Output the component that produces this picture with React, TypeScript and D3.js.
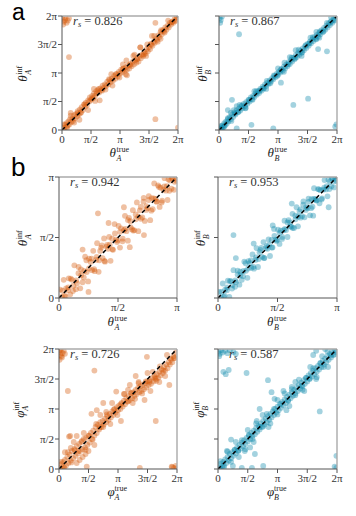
import React from "react";
import { scaleLinear } from "d3";

// all values in units of pi
const ticksFull = [0, 0.5, 1, 1.5, 2];
const labelsFull = ["0", "π/2", "π", "3π/2", "2π"];
const ticksHalf = [0, 0.5, 1];
const labelsHalf = ["0", "π/2", "π"];

type Pt = [number, number];

const thetaA: Pt[] = [
  [0.01,1.95],[0.03,1.9],[0.05,1.93],[0.08,1.88],[0.1,1.92],[0.02,1.85],[0.12,1.96],[0.06,1.97],
  [0.12,1.28],[1.61,1.88],[1.61,0.19],[2.0,0.04],[1.12,0.96],
  [0.02,0.04],[0.04,0.0],[0.05,0.09],[0.07,0.05],[0.08,0.12],[0.1,0.08],[0.11,0.15],[0.13,0.1],[0.14,0.19],[0.16,0.14],
  [0.18,0.2],[0.19,0.16],[0.21,0.26],[0.22,0.2],[0.24,0.28],[0.26,0.24],[0.27,0.33],[0.29,0.27],[0.31,0.36],[0.32,0.3],
  [0.34,0.4],[0.36,0.35],[0.38,0.45],[0.4,0.41],[0.41,0.48],[0.43,0.44],[0.45,0.52],[0.47,0.5],[0.48,0.57],[0.5,0.53],
  [0.52,0.6],[0.54,0.56],[0.55,0.64],[0.57,0.6],[0.59,0.68],[0.6,0.64],[0.62,0.7],[0.64,0.66],[0.66,0.73],[0.68,0.7],
  [0.7,0.78],[0.72,0.74],[0.74,0.8],[0.76,0.77],[0.78,0.85],[0.8,0.8],[0.82,0.88],[0.84,0.84],[0.86,0.9],[0.88,0.87],
  [0.9,0.95],[0.92,0.9],[0.94,0.98],[0.96,0.94],[0.98,1.02],[1.0,0.99],[1.02,1.06],[1.04,1.01],[1.06,1.08],[1.08,1.04],
  [1.1,1.1],[1.12,1.06],[1.14,1.13],[1.16,1.08],[1.18,1.16],[1.2,1.12],[1.22,1.2],[1.24,1.15],[1.26,1.22],[1.28,1.18],
  [1.3,1.25],[1.32,1.2],[1.34,1.3],[1.36,1.26],[1.38,1.32],[1.4,1.3],[1.42,1.37],[1.44,1.34],[1.46,1.42],[1.48,1.38],
  [1.5,1.45],[1.52,1.42],[1.54,1.5],[1.56,1.48],[1.58,1.55],[1.6,1.53],[1.62,1.6],[1.64,1.58],[1.66,1.66],[1.68,1.63],
  [1.7,1.72],[1.72,1.68],[1.74,1.75],[1.76,1.73],[1.78,1.8],[1.8,1.76],[1.82,1.83],[1.84,1.8],[1.86,1.88],[1.88,1.85],
  [1.9,1.9],[1.92,1.88],[1.94,1.95],[1.96,1.93],[1.98,1.98],
  [0.3,0.18],[0.55,0.72],[0.85,0.98],[1.05,1.15],[1.25,1.32],[1.45,1.3],[1.7,1.6],[1.35,1.45],[0.15,0.3],[0.65,0.52],
  [1.55,1.65],[1.1,0.98],
  [0.03,0.1],[0.09,0.04],[0.15,0.25],[0.21,0.13],[0.27,0.3],[0.33,0.31],[0.39,0.45],[0.45,0.35],[0.51,0.55],[0.57,0.51],
  [0.63,0.72],[0.69,0.69],[0.75,0.71],[0.81,0.89],[0.87,0.78],[0.93,0.98],[0.99,0.92],[1.05,1.07],[1.11,1.22],[1.17,1.14],
  [1.23,1.3],[1.29,1.24],[1.35,1.45],[1.41,1.33],[1.47,1.5],[1.53,1.51],[1.59,1.65],[1.65,1.55],[1.71,1.75],[1.77,1.71],
  [1.83,1.92],[1.89,1.89],[1.95,1.91],
];

const thetaB: Pt[] = [
  [0.01,1.97],[0.03,1.93],[0.02,1.88],[0.05,1.99],[0.34,1.68],[0.55,0.09],[0.92,0.03],[1.26,0.44],[1.51,0.55],[1.97,0.06],
  [1.99,0.1],[1.05,0.83],[0.22,0.53],[0.15,0.35],[0.3,0.03],[0.05,0.03],[1.68,1.42],[1.83,1.38],
  [0.01,0.02],[0.03,0.05],[0.04,0.01],[0.06,0.08],[0.07,0.04],[0.09,0.12],[0.1,0.08],[0.12,0.15],[0.13,0.11],[0.15,0.19],
  [0.16,0.15],[0.18,0.22],[0.2,0.19],[0.22,0.27],[0.24,0.23],[0.26,0.31],[0.28,0.27],[0.3,0.35],[0.32,0.31],[0.34,0.38],
  [0.36,0.34],[0.38,0.42],[0.4,0.38],[0.42,0.46],[0.44,0.42],[0.46,0.49],[0.48,0.46],[0.5,0.53],[0.52,0.5],[0.54,0.57],
  [0.56,0.54],[0.58,0.6],[0.6,0.58],[0.62,0.64],[0.64,0.62],[0.66,0.68],[0.68,0.65],[0.7,0.72],[0.72,0.69],[0.74,0.76],
  [0.76,0.73],[0.78,0.8],[0.8,0.77],[0.82,0.83],[0.84,0.81],[0.86,0.87],[0.88,0.85],[0.9,0.91],[0.92,0.89],[0.94,0.95],
  [0.96,0.93],[0.98,0.99],[1.0,0.97],[1.02,1.03],[1.04,1.01],[1.06,1.07],[1.08,1.04],[1.1,1.11],[1.12,1.08],[1.14,1.15],
  [1.16,1.12],[1.18,1.19],[1.2,1.16],[1.22,1.23],[1.24,1.2],[1.26,1.27],[1.28,1.24],[1.3,1.31],[1.32,1.28],[1.34,1.35],
  [1.36,1.32],[1.38,1.39],[1.4,1.36],[1.42,1.43],[1.44,1.4],[1.46,1.47],[1.48,1.44],[1.5,1.51],[1.52,1.48],[1.54,1.55],
  [1.56,1.52],[1.58,1.59],[1.6,1.56],[1.62,1.63],[1.64,1.6],[1.66,1.67],[1.68,1.64],[1.7,1.71],[1.72,1.68],[1.74,1.75],
  [1.76,1.72],[1.78,1.79],[1.8,1.76],[1.82,1.83],[1.84,1.8],[1.86,1.87],[1.88,1.84],[1.9,1.91],[1.92,1.88],[1.94,1.95],
  [1.96,1.92],[1.98,1.99],
  [0.2,0.3],[0.25,0.35],[0.3,0.42],[0.35,0.44],[0.6,0.68],[0.8,0.72],[1.0,1.08],[1.2,1.28],[1.4,1.3],[1.55,1.62],
  [1.7,1.62],[1.9,1.98],[0.45,0.38],[1.1,1.02],[1.3,1.4],[1.65,1.72],
  [0.03,0.07],[0.09,0.06],[0.15,0.21],[0.21,0.16],[0.27,0.29],[0.33,0.32],[0.39,0.43],[0.45,0.39],[0.51,0.53],[0.57,0.53],
  [0.63,0.68],[0.69,0.69],[0.75,0.73],[0.81,0.86],[0.87,0.82],[0.93,0.96],[0.99,0.95],[1.05,1.06],[1.11,1.18],[1.17,1.15],
  [1.23,1.27],[1.29,1.26],[1.35,1.41],[1.41,1.36],[1.47,1.49],[1.53,1.52],[1.59,1.63],[1.65,1.59],[1.71,1.73],[1.77,1.73],
  [1.83,1.88],[1.89,1.89],[1.95,1.93],
];

const thetaAHalf: Pt[] = [
  [0.01,0.07],[0.025,0.01],[0.04,0.15],[0.048,0.02],[0.06,0.08],[0.075,0.065],[0.083,0.163],[0.095,0.03],[0.11,0.15],
  [0.118,0.058],[0.13,0.27],[0.145,0.145],[0.152,0.122],[0.166,0.256],[0.18,0.08],[0.187,0.237],[0.2,0.13],[0.213,0.223],
  [0.221,0.341],[0.235,0.215],[0.247,0.137],[0.255,0.325],[0.268,0.298],[0.28,0.23],[0.29,0.39],[0.302,0.222],
  [0.315,0.315],[0.323,0.453],[0.336,0.216],[0.349,0.389],[0.357,0.417],[0.37,0.33],[0.382,0.492],[0.39,0.3],
  [0.404,0.424],[0.416,0.406],[0.425,0.505],[0.437,0.307],[0.45,0.49],[0.458,0.398],[0.471,0.611],[0.483,0.483],
  [0.492,0.462],[0.505,0.595],[0.517,0.417],[0.526,0.576],[0.538,0.468],[0.55,0.56],[0.559,0.679],[0.572,0.552],
  [0.584,0.474],[0.593,0.663],[0.605,0.635],[0.618,0.568],[0.626,0.726],[0.639,0.559],[0.651,0.651],[0.66,0.79],
  [0.672,0.552],[0.685,0.725],[0.693,0.753],[0.706,0.666],[0.718,0.828],[0.727,0.637],[0.74,0.76],[0.752,0.742],
  [0.761,0.841],[0.773,0.643],[0.786,0.826],[0.794,0.734],[0.807,0.947],[0.819,0.819],[0.828,0.798],[0.84,0.93],
  [0.853,0.753],[0.861,0.911],[0.874,0.804],[0.886,0.896],[0.895,0.99],[0.907,0.887],[0.92,0.81],[0.928,0.98],
  [0.941,0.971],[0.953,0.903],[0.962,0.99],[0.974,0.894],[0.986,0.986],[0.995,0.97],
  [0.03,0.06],[0.055,0.01],[0.078,0.088],[0.1,0.16],[0.122,0.102],[0.143,0.073],[0.165,0.205],[0.188,0.188],[0.21,0.17],
  [0.232,0.312],[0.254,0.244],[0.276,0.326],[0.298,0.238],[0.32,0.34],[0.342,0.312],[0.364,0.434],[0.386,0.306],
  [0.408,0.438],[0.43,0.44],[0.452,0.402],[0.474,0.534],[0.496,0.476],[0.518,0.548],[0.54,0.49],[0.562,0.572],
  [0.584,0.644],[0.606,0.586],[0.628,0.558],[0.65,0.69],[0.672,0.672],[0.694,0.654],[0.716,0.796],[0.738,0.728],
  [0.76,0.81],[0.782,0.722],[0.804,0.824],[0.826,0.796],[0.848,0.918],[0.87,0.79],[0.892,0.922],[0.914,0.924],
  [0.936,0.886],[0.958,0.99],[0.98,0.96],
  [0.33,0.7],[0.25,0.05],[0.2,0.4],[0.6,0.42],[0.42,0.62],[0.72,0.52],[0.55,0.75],
];

const thetaBHalf: Pt[] = [
  [0.01,0.05],[0.025,0.0],[0.04,0.12],[0.048,0.01],[0.06,0.07],[0.075,0.065],[0.083,0.143],[0.095,0.01],[0.11,0.14],
  [0.118,0.078],[0.13,0.23],[0.145,0.145],[0.152,0.132],[0.166,0.226],[0.18,0.11],[0.187,0.217],[0.2,0.15],[0.213,0.223],
  [0.221,0.301],[0.235,0.225],[0.247,0.167],[0.255,0.305],[0.268,0.288],[0.28,0.25],[0.29,0.36],[0.302,0.242],
  [0.315,0.315],[0.323,0.413],[0.336,0.256],[0.349,0.379],[0.357,0.397],[0.37,0.34],[0.382,0.462],[0.39,0.33],
  [0.404,0.414],[0.416,0.406],[0.425,0.485],[0.437,0.347],[0.45,0.48],[0.458,0.418],[0.471,0.571],[0.483,0.483],
  [0.492,0.472],[0.505,0.565],[0.517,0.447],[0.526,0.556],[0.538,0.488],[0.55,0.56],[0.559,0.639],[0.572,0.562],
  [0.584,0.504],[0.593,0.643],[0.605,0.625],[0.618,0.588],[0.626,0.696],[0.639,0.579],[0.651,0.651],[0.66,0.75],
  [0.672,0.592],[0.685,0.715],[0.693,0.733],[0.706,0.676],[0.718,0.798],[0.727,0.667],[0.74,0.75],[0.752,0.742],
  [0.761,0.821],[0.773,0.683],[0.786,0.816],[0.794,0.754],[0.807,0.907],[0.819,0.819],[0.828,0.808],[0.84,0.9],
  [0.853,0.783],[0.861,0.891],[0.874,0.824],[0.886,0.896],[0.895,0.975],[0.907,0.897],[0.92,0.84],[0.928,0.978],
  [0.941,0.961],[0.953,0.923],[0.962,0.99],[0.974,0.914],[0.986,0.986],[0.995,0.97],
  [0.03,0.05],[0.055,0.02],[0.078,0.088],[0.1,0.14],[0.122,0.107],[0.143,0.093],[0.165,0.195],[0.188,0.188],[0.21,0.18],
  [0.232,0.287],[0.254,0.244],[0.276,0.311],[0.298,0.258],[0.32,0.335],[0.342,0.322],[0.364,0.414],[0.386,0.331],
  [0.408,0.428],[0.43,0.44],[0.452,0.417],[0.474,0.514],[0.496,0.481],[0.518,0.538],[0.54,0.505],[0.562,0.572],
  [0.584,0.624],[0.606,0.591],[0.628,0.578],[0.65,0.68],[0.672,0.672],[0.694,0.664],[0.716,0.771],[0.738,0.728],
  [0.76,0.795],[0.782,0.742],[0.804,0.819],[0.826,0.806],[0.848,0.898],[0.87,0.815],[0.892,0.912],[0.914,0.924],
  [0.936,0.901],[0.958,0.99],[0.98,0.965],
  [0.13,0.52],[0.15,0.33],[0.93,0.75],[0.3,0.45],[0.62,0.78],[0.8,0.68],[0.46,0.6],
];

const phiA: Pt[] = [
  [0.0,1.95],[0.02,1.9],[0.03,1.98],[0.05,1.86],[0.06,1.93],[0.01,1.82],[0.08,1.97],[0.04,1.88],[0.1,1.92],[0.02,1.99],
  [1.95,0.02],[1.98,0.05],[1.92,0.03],[2.0,0.01],
  [0.6,1.64],[0.15,1.3],[0.17,0.54],[0.19,0.55],[0.64,0.98],[0.97,1.29],[1.64,0.8],[1.37,0.02],[1.91,0.04],[0.47,0.04],
  [1.49,1.87],[1.63,1.52],[1.87,1.4],[1.17,1.32],[0.55,0.92],[0.75,1.1],[1.3,1.55],[1.05,0.8],[0.3,0.1],[0.4,0.2],[1.45,1.15],
  [0.02,0.02],[0.04,0.08],[0.05,0.0],[0.07,0.12],[0.08,0.04],[0.1,0.15],[0.12,0.06],[0.14,0.2],[0.16,0.1],[0.18,0.24],
  [0.2,0.14],[0.22,0.3],[0.24,0.18],[0.26,0.33],[0.28,0.22],[0.3,0.38],[0.32,0.26],[0.34,0.42],[0.36,0.3],[0.38,0.45],
  [0.4,0.33],[0.42,0.5],[0.44,0.36],[0.46,0.52],[0.48,0.4],[0.5,0.55],[0.52,0.44],[0.54,0.6],[0.56,0.5],[0.58,0.64],
  [0.6,0.56],[0.62,0.7],[0.64,0.6],[0.66,0.74],[0.68,0.66],[0.7,0.78],[0.72,0.7],[0.74,0.8],[0.76,0.74],[0.78,0.84],
  [0.8,0.78],[0.82,0.88],[0.84,0.82],[0.86,0.92],[0.88,0.86],[0.9,0.96],[0.92,0.9],[0.94,1.0],[0.96,0.94],[0.98,1.03],
  [1.0,0.98],[1.02,1.06],[1.04,1.0],[1.06,1.1],[1.08,1.04],[1.1,1.14],[1.12,1.08],[1.14,1.18],[1.16,1.12],[1.18,1.22],
  [1.2,1.15],[1.22,1.26],[1.24,1.18],[1.26,1.28],[1.28,1.22],[1.3,1.32],[1.32,1.25],[1.34,1.35],[1.36,1.28],[1.38,1.38],
  [1.4,1.3],[1.42,1.4],[1.44,1.33],[1.46,1.43],[1.48,1.36],[1.5,1.46],[1.52,1.4],[1.54,1.48],[1.56,1.42],[1.58,1.52],
  [1.6,1.46],[1.62,1.55],[1.64,1.5],[1.66,1.58],[1.68,1.52],[1.7,1.62],[1.72,1.56],[1.74,1.66],[1.76,1.6],[1.78,1.7],
  [1.8,1.64],[1.82,1.74],[1.84,1.68],[1.86,1.78],[1.88,1.74],[1.9,1.82],[1.92,1.78],[1.94,1.88],[1.96,1.85],[1.98,1.94],
  [0.35,0.15],[0.45,0.25],[0.5,0.3],[0.6,0.4],[0.25,0.45],[0.3,0.55],[0.8,0.95],[0.9,1.1],[1.1,1.25],[1.25,1.1],
  [1.5,1.6],[1.7,1.45],[1.8,1.55],[0.42,0.6],[0.7,0.9],[1.2,1.4],[1.55,1.3],[1.35,1.45],[0.2,0.35],[0.1,0.28],
  [0.03,0.12],[0.09,0.02],[0.15,0.28],[0.21,0.11],[0.27,0.31],[0.33,0.3],[0.39,0.47],[0.45,0.32],[0.51,0.56],[0.57,0.49],
  [0.63,0.75],[0.69,0.69],[0.75,0.7],[0.81,0.91],[0.87,0.75],[0.93,0.99],[0.99,0.9],[1.05,1.08],[1.11,1.25],[1.17,1.13],
  [1.23,1.27],[1.29,1.17],[1.35,1.43],[1.41,1.26],[1.47,1.46],[1.53,1.45],[1.59,1.62],[1.65,1.47],[1.71,1.71],[1.77,1.64],
  [1.83,1.9],[1.89,1.84],[1.95,1.85],
];

const phiB: Pt[] = [
  [0.01,1.96],[0.03,1.92],[0.05,1.98],[0.08,1.94],[0.12,1.97],[0.16,1.93],[0.2,1.98],[0.26,1.95],[0.3,1.92],[0.02,1.88],
  [0.09,1.62],[0.13,1.58],[0.18,1.65],
  [1.99,0.22],[1.96,0.04],[1.99,0.02],[0.57,0.02],[0.76,0.05],[0.25,0.05],[0.62,0.25],[0.54,0.36],[0.22,0.49],[0.4,0.02],
  [0.48,1.6],[0.84,1.48],[0.9,1.28],[0.95,1.17],[1.24,1.37],[1.41,1.39],[1.71,0.96],[0.7,1.0],[1.1,1.3],[1.6,1.9],
  [1.65,1.97],[1.8,2.0],
  [0.02,0.03],[0.04,0.0],[0.05,0.09],[0.07,0.04],[0.09,0.12],[0.1,0.06],[0.12,0.16],[0.14,0.1],[0.16,0.2],[0.18,0.14],
  [0.2,0.25],[0.22,0.18],[0.24,0.28],[0.26,0.22],[0.28,0.32],[0.3,0.26],[0.32,0.36],[0.34,0.3],[0.36,0.4],[0.38,0.34],
  [0.4,0.44],[0.42,0.38],[0.44,0.48],[0.46,0.42],[0.48,0.52],[0.5,0.46],[0.52,0.56],[0.54,0.5],[0.56,0.6],[0.58,0.55],
  [0.6,0.64],[0.62,0.58],[0.64,0.68],[0.66,0.62],[0.68,0.72],[0.7,0.66],[0.72,0.76],[0.74,0.7],[0.76,0.8],[0.78,0.74],
  [0.8,0.84],[0.82,0.78],[0.84,0.88],[0.86,0.82],[0.88,0.92],[0.9,0.86],[0.92,0.96],[0.94,0.9],[0.96,1.0],[0.98,0.94],
  [1.0,1.04],[1.02,0.98],[1.04,1.08],[1.06,1.02],[1.08,1.12],[1.1,1.06],[1.12,1.16],[1.14,1.1],[1.16,1.2],[1.18,1.14],
  [1.2,1.24],[1.22,1.18],[1.24,1.28],[1.26,1.22],[1.28,1.32],[1.3,1.26],[1.32,1.36],[1.34,1.3],[1.36,1.4],[1.38,1.34],
  [1.4,1.44],[1.42,1.38],[1.44,1.48],[1.46,1.42],[1.48,1.52],[1.5,1.46],[1.52,1.56],[1.54,1.5],[1.56,1.6],[1.58,1.54],
  [1.6,1.64],[1.62,1.58],[1.64,1.68],[1.66,1.62],[1.68,1.72],[1.7,1.66],[1.72,1.76],[1.74,1.7],[1.76,1.8],[1.78,1.74],
  [1.8,1.84],[1.82,1.78],[1.84,1.88],[1.86,1.82],[1.88,1.92],[1.9,1.86],[1.92,1.96],[1.94,1.9],[1.96,1.98],[1.98,1.95],
  [0.3,0.45],[0.35,0.2],[0.5,0.65],[0.6,0.45],[0.75,0.9],[0.85,0.7],[1.0,1.15],[1.15,0.98],[1.3,1.45],[1.45,1.3],
  [1.55,1.7],[1.65,1.5],[1.75,1.88],[1.85,1.7],[0.15,0.3],[0.45,0.3],[1.2,1.05],[0.65,0.8],
  [0.04,0.13],[0.1,0.03],[0.16,0.29],[0.22,0.12],[0.28,0.32],[0.34,0.31],[0.4,0.48],[0.46,0.33],[0.52,0.57],[0.58,0.5],
  [0.64,0.76],[0.7,0.7],[0.76,0.71],[0.82,0.92],[0.88,0.76],[0.94,1.0],[1.0,0.91],[1.06,1.09],[1.12,1.26],[1.18,1.14],
  [1.24,1.33],[1.3,1.23],[1.36,1.49],[1.42,1.32],[1.48,1.52],[1.54,1.51],[1.6,1.68],[1.66,1.53],[1.72,1.77],[1.78,1.7],
  [1.84,1.96],[1.9,1.9],[1.96,1.91],
];

const ORANGE = "#d45a0a";
const BLUE = "#0e89aa";
const SERIF = "'Liberation Serif', 'DejaVu Serif', serif";

function MathLabel({ x, y, base, sub, sup, rotate = 0 }: { x: number; y: number; base: string; sub: string; sup: string; rotate?: number }) {
  const supW = sup.length * 3.6;
  const start = -(6.5 + supW) / 2;
  return (
    <g transform={`translate(${x},${y}) rotate(${rotate})`} fontFamily={SERIF} fill="#222">
      <text x={start} y={0} fontSize={13} fontStyle="italic">{base}</text>
      <text x={start + 7} y={-5} fontSize={8}>{sup}</text>
      <text x={start + 7} y={4} fontSize={8} fontStyle="italic">{sub}</text>
    </g>
  );
}

function Panel(props: {
  id: string; data: Pt[]; max: number; color: string;
  x0: number; x1: number; y0: number; y1: number;
  ticks: number[]; labels: string[]; yLabels: boolean;
  rs: string; base: string; sub: string; ylabX: number; xlabY: number;
}) {
  const { id, data, max, color, x0, x1, y0, y1, ticks, labels, yLabels, rs, base, sub, ylabX, xlabY } = props;
  const x = scaleLinear().domain([0, max]).range([x0, x1]);
  const y = scaleLinear().domain([0, max]).range([y1, y0]);
  return (
    <g>
      <defs>
        <clipPath id={`clip-${id}`}>
          <rect x={x0} y={y0} width={x1 - x0} height={y1 - y0} />
        </clipPath>
      </defs>
      <g clipPath={`url(#clip-${id})`}>
        {data.map((d, i) => (
          <circle key={i} cx={x(d[0])} cy={y(d[1])} r={2.9} fill={color} fillOpacity={0.38} />
        ))}
        <line x1={x(0)} y1={y(0)} x2={x(max)} y2={y(max)} stroke="#000" strokeWidth={1.5} strokeDasharray="4 3" />
      </g>
      {/* frame */}
      <line x1={x0} y1={y0} x2={x1} y2={y0} stroke="#aaa" strokeWidth={1.4} />
      <line x1={x1} y1={y0} x2={x1} y2={y1} stroke="#aaa" strokeWidth={1.4} />
      <line x1={x0} y1={y0} x2={x0} y2={y1} stroke="#555" strokeWidth={1} />
      <line x1={x0} y1={y1} x2={x1} y2={y1} stroke="#555" strokeWidth={1} />
      {ticks.map((t, i) => (
        <g key={`x${i}`}>
          <line x1={x(t)} x2={x(t)} y1={y1} y2={y1 + 4} stroke="#555" />
          <text x={x(t)} y={y1 + 13} textAnchor="middle" fontFamily={SERIF} fontSize={11} fill="#333">{labels[i]}</text>
        </g>
      ))}
      {ticks.map((t, i) => (
        <g key={`y${i}`}>
          <line x1={x0 - 4} x2={x0} y1={y(t)} y2={y(t)} stroke="#555" />
          {yLabels && (
            <text x={x0 - 5} y={y(t)} dy="0.35em" textAnchor="end" fontFamily={SERIF} fontSize={11} fill="#333">{labels[i]}</text>
          )}
        </g>
      ))}
      <text x={x0 + 11} y={y0 + 9} fontFamily={SERIF} fontSize={12.5} fill="#333">
        <tspan fontStyle="italic">r</tspan>
        <tspan fontSize={8.5} fontStyle="italic" dy={2}>s</tspan>
        <tspan dy={-2}>{` = ${rs}`}</tspan>
      </text>
      <MathLabel x={(x0 + x1) / 2} y={xlabY} base={base} sub={sub} sup="true" />
      <MathLabel x={ylabX} y={(y0 + y1) / 2} base={base} sub={sub} sup="inf" rotate={-90} />
    </g>
  );
}

export default function App() {
  return (
    <svg width={356} height={516} style={{ position: "absolute", left: 0, top: 0, background: "#fff" }}>
      <text x={12} y={20} fontFamily="'Liberation Sans', Arial, sans-serif" fontSize={23} fill="#000">a</text>
      <text x={11} y={176} fontFamily="'Liberation Sans', Arial, sans-serif" fontSize={26} fill="#000">b</text>
      <Panel id="p1" data={thetaA} max={2} color={ORANGE} x0={62} x1={178} y0={16} y1={130}
        ticks={ticksFull} labels={labelsFull} yLabels rs="0.826" base="θ" sub="A" ylabX={27} xlabY={157} />
      <Panel id="p2" data={thetaB} max={2} color={BLUE} x0={219} x1={337} y0={16} y1={130}
        ticks={ticksFull} labels={labelsFull} yLabels={false} rs="0.867" base="θ" sub="B" ylabX={207} xlabY={157} />
      <Panel id="p3" data={thetaAHalf} max={1} color={ORANGE} x0={59} x1={177} y0={177} y1={298}
        ticks={ticksHalf} labels={labelsHalf} yLabels rs="0.942" base="θ" sub="A" ylabX={27} xlabY={326} />
      <Panel id="p4" data={thetaBHalf} max={1} color={BLUE} x0={218} x1={337} y0={177} y1={298}
        ticks={ticksHalf} labels={labelsHalf} yLabels={false} rs="0.953" base="θ" sub="B" ylabX={205} xlabY={326} />
      <Panel id="p5" data={phiA} max={2} color={ORANGE} x0={59} x1={177} y0={349} y1={469}
        ticks={ticksFull} labels={labelsFull} yLabels rs="0.726" base="φ" sub="A" ylabX={24} xlabY={496} />
      <Panel id="p6" data={phiB} max={2} color={BLUE} x0={218} x1={337} y0={349} y1={469}
        ticks={ticksFull} labels={labelsFull} yLabels={false} rs="0.587" base="φ" sub="B" ylabX={204} xlabY={496} />
    </svg>
  );
}
